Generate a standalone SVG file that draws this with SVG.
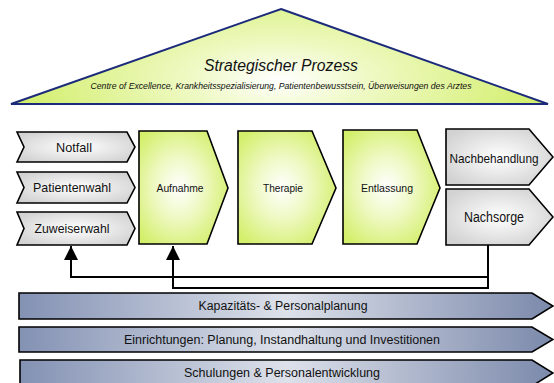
<svg xmlns="http://www.w3.org/2000/svg" width="554" height="383" viewBox="0 0 554 383">
<defs>
<radialGradient id="gTri" cx="0.5" cy="0.75" r="0.5" gradientTransform="translate(0.5 0.75) scale(1 2.2) translate(-0.5 -0.75)">
<stop offset="0" stop-color="#ffffff"/>
<stop offset="0.35" stop-color="#eef9c2"/>
<stop offset="1" stop-color="#d2ee6a"/>
</radialGradient>
<radialGradient id="gGreen" cx="0.45" cy="0.5" r="0.6">
<stop offset="0" stop-color="#ffffff"/>
<stop offset="0.45" stop-color="#eef9c4"/>
<stop offset="1" stop-color="#d4ef6c"/>
</radialGradient>
<radialGradient id="gGray" cx="0.5" cy="0.5" r="0.6">
<stop offset="0" stop-color="#ffffff"/>
<stop offset="1" stop-color="#d2d2d2"/>
</radialGradient>
<linearGradient id="gBar" x1="0" y1="0" x2="1" y2="0">
<stop offset="0" stop-color="#8391b3"/>
<stop offset="0.5" stop-color="#dde1ea"/>
<stop offset="1" stop-color="#7b89ab"/>
</linearGradient>
<marker id="arr" markerUnits="userSpaceOnUse" markerWidth="14" markerHeight="16" refX="14" refY="7" orient="auto" viewBox="0 0 14 14">
<path d="M0,0 L14,7 L0,14 Z" fill="#000"/>
</marker>
</defs>
<style>
.gray{fill:url(#gGray);stroke:#000;stroke-width:1.6}
.green{fill:url(#gGreen);stroke:#000;stroke-width:1.6}
.bar{fill:url(#gBar);stroke:#000;stroke-width:1.6}
.t{font-family:"Liberation Sans",Arial,sans-serif;fill:#111;text-anchor:middle}
.con{fill:none;stroke:#000;stroke-width:2}
</style>

<g id="strategie">
<path d="M281,9 L548,104 L11,104 Z" fill="url(#gTri)" stroke="#1b2a7a" stroke-width="2"/>
<text class="t" x="281" y="71" font-size="16" font-style="italic" textLength="154" lengthAdjust="spacingAndGlyphs">Strategischer Prozess</text>
<text class="t" x="281" y="89" font-size="9.5" font-style="italic" textLength="381" lengthAdjust="spacingAndGlyphs">Centre of Excellence, Krankheitsspezialisierung, Patientenbewusstsein, Überweisungen des Arztes</text>
</g>

<g id="notfall">
<path class="gray" d="M17,132 L127,132 L135,147 L127,162 L17,162 L24,147 Z"/>
<text class="t" x="74" y="152" font-size="13" textLength="36" lengthAdjust="spacingAndGlyphs">Notfall</text>
</g>
<g id="patientenwahl">
<path class="gray" d="M17,172 L127,172 L135,187.5 L127,203 L17,203 L24,187.5 Z"/>
<text class="t" x="72" y="192" font-size="13" textLength="78" lengthAdjust="spacingAndGlyphs">Patientenwahl</text>
</g>
<g id="zuweiserwahl">
<path class="gray" d="M17,212 L127,212 L135,228.5 L127,245 L17,245 L24,228.5 Z"/>
<text class="t" x="72" y="233" font-size="13" textLength="75" lengthAdjust="spacingAndGlyphs">Zuweiserwahl</text>
</g>

<g id="aufnahme">
<path class="green" d="M139,131 L207,131 L228,188 L207,244 L139,244 Z"/>
<text class="t" x="180" y="192" font-size="11" textLength="47" lengthAdjust="spacingAndGlyphs">Aufnahme</text>
</g>
<g id="therapie">
<path class="green" d="M238,131 L312,131 L336,188 L312,244 L238,244 Z"/>
<text class="t" x="283" y="192" font-size="11" textLength="40" lengthAdjust="spacingAndGlyphs">Therapie</text>
</g>
<g id="entlassung">
<path class="green" d="M343,130 L417,130 L440,188 L417,244 L343,244 Z"/>
<text class="t" x="387" y="192" font-size="11" textLength="52" lengthAdjust="spacingAndGlyphs">Entlassung</text>
</g>

<g id="nachbehandlung">
<path class="gray" d="M446,129 L529,129 L553,157 L529,185 L446,185 Z"/>
<text class="t" x="494" y="163" font-size="13.5" textLength="89" lengthAdjust="spacingAndGlyphs">Nachbehandlung</text>
</g>
<g id="nachsorge">
<path class="gray" d="M446,189 L529,189 L553,217 L529,245 L446,245 Z"/>
<text class="t" x="494" y="222" font-size="14" textLength="60" lengthAdjust="spacingAndGlyphs">Nachsorge</text>
</g>

<g id="connectors">
<path class="con" d="M488,245 V288 H173 V246" marker-end="url(#arr)"/>
<path class="con" d="M488,277 H71 V246" marker-end="url(#arr)"/>
</g>

<g id="kapazitaet">
<path class="bar" d="M19,293 L532,293 L553,306 L532,319 L19,319 Z"/>
<text class="t" x="283" y="310" font-size="12" textLength="169" lengthAdjust="spacingAndGlyphs">Kapazitäts- &amp; Personalplanung</text>
</g>
<g id="einrichtungen">
<path class="bar" d="M19,327 L532,327 L553,339.5 L532,352 L19,352 Z"/>
<text class="t" x="282" y="344" font-size="12" textLength="316" lengthAdjust="spacingAndGlyphs">Einrichtungen: Planung, Instandhaltung und Investitionen</text>
</g>
<g id="schulungen">
<path class="bar" d="M20,360 L532,360 L553,373 L532,386 L20,386 Z"/>
<text class="t" x="282" y="377" font-size="12" textLength="196" lengthAdjust="spacingAndGlyphs">Schulungen &amp; Personalentwicklung</text>
</g>
</svg>
